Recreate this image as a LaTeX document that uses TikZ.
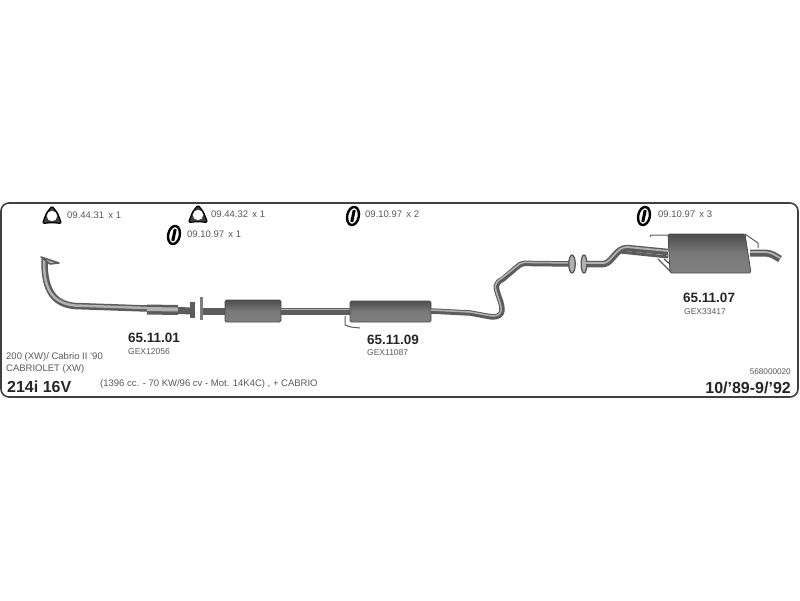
\documentclass[tikz,border=0pt]{standalone}
\usepackage{fontspec}
\setmainfont{Liberation Sans}
\usepackage{tikz}
\definecolor{frameline}{gray}{0.25}
\definecolor{txtgray}{gray}{0.35}
\definecolor{pipedark}{gray}{0.36}
\definecolor{pipelight}{gray}{0.70}
\definecolor{boxdark}{gray}{0.30}
\definecolor{boxmid}{gray}{0.50}
\tikzset{
  reflabel/.style={text=txtgray,inner sep=0pt,anchor=west,font=\fontsize{9.5}{11}\selectfont},
  partno/.style={text=black!85,inner sep=0pt,anchor=west,font=\fontsize{13.5}{15}\selectfont\bfseries},
  bigno/.style={text=black!85,inner sep=0pt,anchor=west,font=\fontsize{16}{18}\selectfont\bfseries},
  gexno/.style={text=txtgray,inner sep=0pt,anchor=west,font=\fontsize{8.5}{10}\selectfont},
  pipe/.style={draw=pipedark,line width=#1,line cap=butt,line join=round},
  pipehi/.style={draw=pipelight,line width=#1,line cap=butt,line join=round},
  muffler/.style={draw=boxdark,line width=0.8pt,top color=boxdark,bottom color=boxmid,middle color=boxdark!75,rounded corners=1.5pt},
  strap/.style={draw=pipedark,line width=1pt,line join=round}
}
\newcommand{\gasket}[2]{\draw [black,line width=1.2pt,line join=round,rounded corners=1.5pt,fill=black!75] (#1-9.5,#2+8.5) -- (#1-5.5,#2-2) -- (#1,#2-9) -- (#1+5.5,#2-2) -- (#1+9.5,#2+8.5) -- (#1,#2+7.5) -- cycle; \fill [white] (#1,#2+1) circle [radius=5.2];}
\newcommand{\hanger}[2]{\draw [black,line width=2.4pt,fill=white,rotate around={-12:(#1,#2)}] (#1,#2) ellipse [x radius=5.8,y radius=9.2]; \fill [black,rotate around={-12:(#1,#2)}] (#1-1.5,#2-6) rectangle (#1+1.5,#2+6);}
\begin{document}
\begin{tikzpicture}[x=1pt,y=-1pt]
\useasboundingbox (0,0) rectangle (800,600);
\fill [white] (0,0) rectangle (800,600);
\draw [frameline,line width=1.6pt,rounded corners=8pt] (1,203) rectangle (798,397);

\gasket{52}{215} \node [reflabel] (ref1) at (67,215) {09.44.31 \,x 1};
\gasket{198}{214} \node [reflabel] (ref2) at (211,214.5) {09.44.32 \,x 1};
\hanger{174}{235} \node [reflabel] (ref3) at (187,234.5) {09.10.97 \,x 1};
\hanger{353}{216} \node [reflabel] (ref4) at (365,214.5) {09.10.97 \,x 2};
\hanger{644}{216} \node [reflabel] (ref5) at (658,214.5) {09.10.97 \,x 3};

% front pipe
\draw [pipe=6.5pt] (44.5,259) .. controls (44,288) and (52,304) .. (75,306) -- (147,308.5);
\draw [pipehi=2.5pt] (44,259) .. controls (43.5,288) and (51,303) .. (75,305.5) -- (147,308);
\draw [pipe=10pt] (147,309.5) -- (178,310);
\draw [pipehi=4pt] (147,309) -- (178,309.5);
\draw [pipe=7pt] (178,310.5) -- (192,311);
\draw [pipe=1.5pt,fill=pipelight] (41,257) -- (50,264) -- (59,263) -- (50,260) -- cycle;
\fill [pipedark] (190,302) rectangle (195,318);
\fill [pipedark!80] (199.5,297) rectangle (203,320);
\draw [pipe=7pt] (203,311) -- (226,311);

% centre section
\draw [muffler] (225,300) rectangle (281,322);
\draw [pipe=7pt] (281,311) -- (350,311);
\draw [pipehi=1pt] (281,309.5) -- (350,309.5);
\draw [strap] (345,316) -- (345,325) -- (351,327) -- (360,328);
\draw [muffler] (350,301) rectangle (431,322);

% middle pipe
\draw [pipe=5.5pt] (431,311) -- (470,313) -- (492,317) .. controls (505,317) and (503,308) .. (499,297) .. controls (495,286) and (495,283) .. (503,279) -- (517,267) .. controls (521,263) and (525,263) .. (532,263.5) -- (572,264);
\draw [pipehi=1.5pt] (431,310) -- (470,312) -- (492,316) .. controls (504,316) and (502,308) .. (498,297) .. controls (494,286) and (494,283) .. (502,278) -- (517,266) .. controls (521,262) and (525,262) .. (532,262.5) -- (572,263);
\draw [pipe=1.4pt,fill=pipelight] (572,264) ellipse [x radius=3.2,y radius=9];
\draw [pipe=1.4pt,fill=pipelight] (584,264) ellipse [x radius=2.8,y radius=9];

% rear pipe and box
\draw [pipe=3pt] (620,252) -- (668,257);
\draw [pipe=6.5pt] (586,264) -- (604,264) .. controls (612,263) and (616,248) .. (627,248) -- (668,252);
\draw [pipehi=1.8pt] (586,263) -- (604,263) .. controls (612,262) and (616,247) .. (627,247) -- (668,251);
\draw [strap] (650,237) -- (651,235) -- (668,235);
\draw [strap] (745,234) -- (758,243) -- (758,248);
\draw [strap,line width=1.4pt] (658,259) -- (670,271) (664,259) -- (670,264);
\draw [muffler] (668,234) -- (745,234) -- (751,273) -- (670,273) -- cycle;
\draw [pipe=7pt] (750,253) -- (765,253) .. controls (771,253) and (775,256) .. (780,259);
\draw [pipehi=1.8pt] (750,252) -- (765,252) .. controls (771,252) and (775,255) .. (780,258);

\node [partno] (part1) at (128,338) {65.11.01};
\node [gexno] (gex1) at (128,352) {GEX12056};
\node [partno] (part2) at (367,339.5) {65.11.09};
\node [gexno] (gex2) at (367,352.5) {GEX11087};
\node [partno] (part3) at (683,298) {65.11.07};
\node [gexno] (gex3) at (684,311.5) {GEX33417};

\node [reflabel] (model1) at (6,357.5) {200 (XW)/ Cabrio II '90};
\node [reflabel] (model2) at (6,369) {CABRIOLET (XW)};
\node [bigno] (engine) at (7,386.5) {214i 16V};
\node [reflabel] (spec) at (100,384.5) {(1396 cc. - 70 KW/96 cv - Mot. 14K4C) , + CABRIO};
\node [gexno,anchor=east,font=\fontsize{8.2}{10}\selectfont] (code) at (791,372) {568000020};
\node [bigno,anchor=east] (years) at (791,387.5) {10/'89-9/'92};
\end{tikzpicture}
\end{document}
